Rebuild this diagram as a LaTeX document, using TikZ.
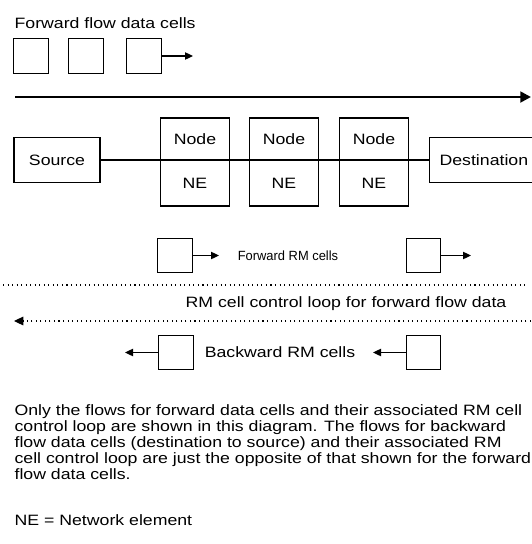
\documentclass[tikz,border=0pt]{standalone}
\usepackage{fontspec}
\setmainfont{Liberation Sans}[FakeStretch=1.18]
\usepackage{tikz}
\usetikzlibrary{arrows.meta, positioning}

\begin{document}
\begin{tikzpicture}[x=0.75pt, y=-0.75pt, line width=0.9pt,
    font=\fontsize{11.25}{12}\selectfont,
    cellbox/.style={draw, minimum width=26pt, minimum height=26pt, inner sep=0pt},
    endbox/.style={draw, minimum height=33.75pt, inner xsep=7.5pt},
    nebox/.style={draw, minimum width=51.75pt, minimum height=66pt, inner sep=0pt},
    flowarrow/.style={-{Triangle[length=6pt,width=5.5pt]}},
    loopline/.style={dash pattern=on 0.8pt off 2.6pt, line width=0.8pt}]
        \useasboundingbox (0,0) rectangle (532,544);
        \clip (0,0) rectangle (532,544);

        % forward flow data cells
        \node[anchor=west, inner sep=0pt] (title) at (14,23) {Forward flow data cells};
        \node[cellbox] (cellA) at (31,56) {};
        \node[cellbox] (cellB) at (86,56) {};
        \node[cellbox] (cellC) at (144,56) {};
        \coordinate (cellCend) at (193,56);
        \draw[flowarrow] (cellC) -- (cellCend);

        \coordinate (flowL) at (15,97);
        \coordinate (flowR) at (531,97);
        \draw[line width=2.2pt, -{Triangle[length=8pt,width=8pt]}] (flowL) -- (flowR);

        % source, network elements, destination
        \node[endbox, minimum width=64.5pt] (src) at (57,160) {Source};
        \node[endbox, anchor=west] (dst) at (429,160) {Destination};
        \draw (src.east) -- (dst.west);

        \node[nebox] (neA) at (195,162) {};
        \node (neAtop) at (195,139) {Node};
        \node (neAbot) at (195,183) {NE};
        \node[nebox] (neB) at (284,162) {};
        \node (neBtop) at (284,139) {Node};
        \node (neBbot) at (284,183) {NE};
        \node[nebox] (neC) at (374,162) {};
        \node (neCtop) at (374,139) {Node};
        \node (neCbot) at (374,183) {NE};

        % forward RM cells
        \node[cellbox] (fwdA) at (175,255.5) {};
        \coordinate (fwdAend) at (219,255.5);
        \draw[flowarrow] (fwdA) -- (fwdAend);
        \node[font=\fontsize{10}{11}\selectfont] (fwdtext) at (288,255.5) {\scalebox{0.82}[1]{Forward RM cells}};
        \node[cellbox] (fwdB) at (423.5,255.5) {};
        \coordinate (fwdBend) at (471,255.5);
        \draw[flowarrow] (fwdB) -- (fwdBend);

        % control loop
        \coordinate (loopA) at (3,285);
        \coordinate (loopB) at (527,285);
        \draw[loopline] (loopA) -- (loopB);
        \node (looptext) at (346,304) {RM cell control loop for forward flow data};
        \coordinate (loopC) at (531,321);
        \coordinate (loopD) at (14,321);
        \draw[loopline, -{Triangle[length=7pt,width=6.5pt]}] (loopC) -- (loopD);

        % backward RM cells
        \node[cellbox] (bwdA) at (176,352.5) {};
        \coordinate (bwdAend) at (125,352.5);
        \draw[flowarrow] (bwdA) -- (bwdAend);
        \node (bwdtext) at (280,352.5) {Backward RM cells};
        \node[cellbox] (bwdB) at (423.5,352.5) {};
        \coordinate (bwdBend) at (373,352.5);
        \draw[flowarrow] (bwdB) -- (bwdBend);

        % note
        \node[anchor=north west, align=left, inner sep=0pt] (note) at (14,404) {Only the flows for forward data cells and their associated RM cell\\control loop are shown in this diagram. The flows for backward\\flow data cells (destination to source) and their associated RM\\cell control loop are just the opposite of that shown for the forward\\flow data cells.};
        \node[anchor=west, inner sep=0pt] (neline) at (14,520) {NE = Network element};
    \end{tikzpicture}
\end{document}
